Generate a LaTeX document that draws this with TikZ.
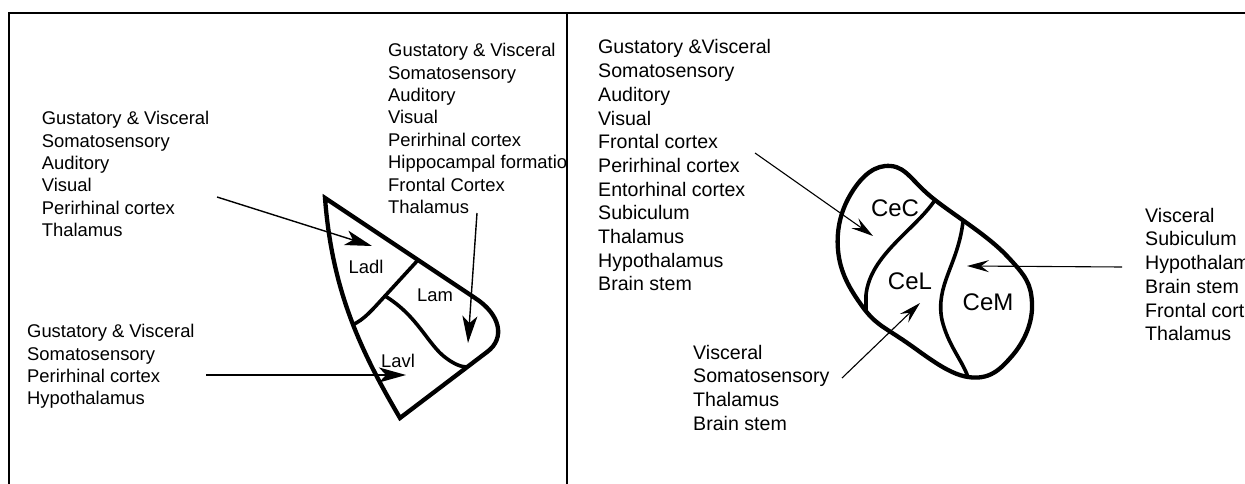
\documentclass[tikz,border=0pt]{standalone}
\usepackage{fontspec}
\setmainfont{Liberation Sans}
\usetikzlibrary{arrows.meta}

\begin{document}
\begin{tikzpicture}[x=1pt,y=-1pt,
  txtL/.style={align=left,anchor=north west,inner sep=0pt,font=\fontsize{18.4}{22.4}\selectfont},
  txtR/.style={align=left,anchor=north west,inner sep=0pt,font=\fontsize{19.6}{23.7}\selectfont},
  sub/.style={inner sep=0pt,font=\fontsize{18.4}{20}\selectfont},
  ce/.style={inner sep=0pt,font=\fontsize{24}{26}\selectfont},
  rim/.style={line width=4.3pt,line join=miter},
  wall/.style={line width=3.6pt},
  inL/.style={-{Stealth[length=27pt,width=15pt,inset=7pt]},line width=1.4pt},
  inR/.style={-{Stealth[length=22pt,width=12pt,inset=8pt]},line width=1.1pt},
  frame/.style={line width=2pt}]
\useasboundingbox (0,0) rectangle (1245,484);
\draw[frame] (9,490) -- (9,12.7) -- (1250,12.7);
\draw[frame] (566.5,12.7) -- (566.5,490);

% lateral nucleus
\draw[rim] (325,198) -- (475,298) .. controls (500,314) and (506,338) .. (487,352)
  -- (400,418) .. controls (360,350) and (332,290) .. cycle;
\draw[wall] (418,260) -- (385,296) .. controls (372,310) and (364,320) .. (352,325);
\draw[wall] (385,296) .. controls (418,316) and (428,345) .. (446,358)
  .. controls (454,364) and (461,367) .. (467,367);
\node[sub] (ladl) at (366,267) {Ladl};
\node[sub] (lam) at (435,295) {Lam};
\node[sub] (lavl) at (398,361) {Lavl};

% inputs to lateral nucleus
\node[txtL] (inladl) at (41.7,111.2) {Gustatory \& Visceral\\Somatosensory\\Auditory\\Visual\\Perirhinal cortex\\Thalamus};
\begin{scope}
  \clip (0,0) rectangle (565.5,484);
  \node[txtL] (inlam) at (388,43.2) {Gustatory \& Visceral\\Somatosensory\\Auditory\\Visual\\Perirhinal cortex\\Hippocampal formation\\Frontal Cortex\\Thalamus};
\end{scope}
\node[txtL] (inlavl) at (27,324.2) {Gustatory \& Visceral\\Somatosensory\\Perirhinal cortex\\Hypothalamus};
\coordinate (s1) at (217,197);
\coordinate (e1) at (372,246);
\coordinate (s2) at (477,213);
\coordinate (e2) at (468,343);
\coordinate (s3) at (206,375);
\coordinate (e3) at (406,375);
\draw[inL] (s1) -- (e1);
\draw[inL] (s2) -- (e2);
\draw[inL] (s3) -- (e3);

% central nucleus
\draw[rim] plot[smooth cycle,tension=0.7] coordinates {(891,166) (935,200) (1007,256) (1032,303) (1012,356) (968,377) (903,340) (862,306) (838,250) (852,192)};
\draw[wall] (935,200) .. controls (915,230) and (870,255) .. (866,295) -- (866,310);
\draw[wall] (963,221.5) .. controls (958,265) and (935,285) .. (942,320)
  .. controls (948,345) and (962,360) .. (968,377);
\node[ce] (cec) at (895,208) {CeC};
\node[ce] (cel) at (910,281) {CeL};
\node[ce] (cem) at (988,302) {CeM};

% inputs to central nucleus
\node[txtR] (incec) at (598,39.5) {Gustatory \&Visceral\\Somatosensory\\Auditory\\Visual\\Frontal cortex\\Perirhinal cortex\\Entorhinal cortex\\Subiculum\\Thalamus\\Hypothalamus\\Brain stem};
\node[txtR] (incel) at (693,344.8) {Visceral\\Somatosensory\\Thalamus\\Brain stem};
\node[txtR] (incem) at (1145,207.8) {Visceral\\Subiculum\\Hypothalamus\\Brain stem\\Frontal cortex\\Thalamus};
\coordinate (s4) at (755,153);
\coordinate (e4) at (873,236);
\coordinate (s5) at (842,378);
\coordinate (e5) at (920,303);
\coordinate (s6) at (1122,267);
\coordinate (e6) at (967,266);
\draw[inR] (s4) -- (e4);
\draw[inR] (s5) -- (e5);
\draw[inR] (s6) -- (e6);
\end{tikzpicture}
\end{document}
